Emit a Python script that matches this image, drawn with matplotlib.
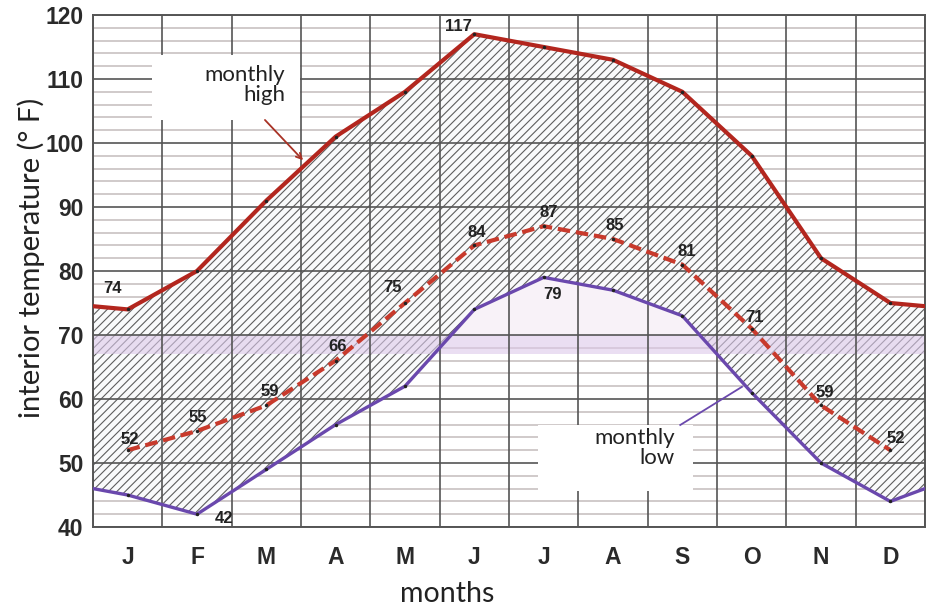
import matplotlib
matplotlib.use('Agg')
import matplotlib.pyplot as plt
import numpy as np
from matplotlib.patches import Rectangle

# monthly interior temperatures (deg F)
months = ['J', 'F', 'M', 'A', 'M', 'J', 'J', 'A', 'S', 'O', 'N', 'D']
high = [74, 80, 91, 101, 108, 117, 115, 113, 108, 98, 82, 75]
mid = [52, 55, 59, 66, 75, 84, 87, 85, 81, 71, 59, 52]
low = [45, 42, 49, 56, 62, 74, 79, 77, 73, 61, 50, 44]
# values where the curves leave the chart edges (wrap Dec -> Jan)
high_ends = [74.5, 74.5]
low_ends = [46, 46]

# which values get a number written next to them, and the pixel offset
label_specs = [
    ('high', 0, -15, 21), ('high', 5, -16, 8),
    ('mid', 0, 2, 11), ('mid', 1, 1, 14), ('mid', 2, 3, 14), ('mid', 3, 2, 14),
    ('mid', 4, -12, 15), ('mid', 5, 2, 13), ('mid', 6, 5, 14), ('mid', 7, 2, 13),
    ('mid', 8, 4, 13), ('mid', 9, 3, 11), ('mid', 10, 4, 13), ('mid', 11, 5, 12),
    ('low', 1, 27, -4), ('low', 6, 9, -17),
]

c_high = '#b3261e'
c_mid = '#c83a2c'
c_low = '#6a48ad'
c_grid = '#555555'
c_minor = '#c4bcbc'

plt.rcParams['hatch.linewidth'] = 0.8
plt.rcParams['hatch.color'] = '#5e5e5e'

fig = plt.figure(figsize=(9.32, 6.08), dpi=100)
ax = fig.add_axes([93 / 932, 1 - 527 / 608, 832 / 932, 512 / 608])

x = np.arange(12) + 0.5
x_full = np.concatenate([[0], x, [12]])
high_full = np.array([high_ends[0]] + high + [high_ends[1]])
low_full = np.array([low_ends[0]] + low + [low_ends[1]])

# minor horizontal grid
for v in range(40, 121, 2):
    if v % 10:
        ax.axhline(v, color=c_minor, lw=1.1, zorder=0.5)

# hatched range between low and high
ax.fill_between(x_full, low_full, high_full, facecolor='#f9fafb', hatch='////',
                edgecolor='#5e5e5e', linewidth=0, zorder=1)
# pale area above the comfort band under the low curve
ax.fill_between(x_full, 70, low_full, where=low_full > 70, interpolate=True,
                facecolor='#f8f2f8', linewidth=0, zorder=1)
# comfort band
ax.axhspan(67, 70, color='#ddc9ea', alpha=0.6, lw=0, zorder=1.5)

# major grid
for v in range(40, 121, 10):
    ax.axhline(v, color=c_grid, lw=1.2, zorder=2)
for i in range(13):
    ax.axvline(i, color=c_grid, lw=1.2, zorder=2)

ax.plot(x_full, high_full, color=c_high, lw=3.0, zorder=3, solid_joinstyle='round')
ax.plot(x_full, low_full, color=c_low, lw=2.4, zorder=3, solid_joinstyle='round')
ax.plot(x, mid, color=c_mid, lw=3.0, dashes=(3, 1.4), zorder=3)
for s in (high, mid, low):
    ax.plot(x, s, 'o', ms=2.5, mfc='#222222', mec='none', zorder=3.5)

series = {'high': high, 'mid': mid, 'low': low}
for name, i, dx, dy in label_specs:
    v = series[name][i]
    ax.annotate(str(v), (x[i], v), xytext=(dx, dy), textcoords='offset pixels',
                ha='center', va='center', fontsize=12, fontweight='bold',
                family='Liberation Sans', color='#222222', zorder=6)

# callout boxes
txt_font = dict(family='Lato', fontsize=16, color='#222222')
ax.add_patch(Rectangle((0.85, 103.6), 2.14, 10.15, facecolor='white',
                       edgecolor='none', zorder=4))
ax.text(2.77, 109.1, 'monthly\nhigh', ha='right', va='center', linespacing=1.0,
        zorder=5, **txt_font)
ax.annotate('', xy=(3.03, 97.3), xytext=(2.48, 103.6),
            arrowprops=dict(arrowstyle='->', color='#a83225', lw=1.3,
                            mutation_scale=10, shrinkA=0, shrinkB=0), zorder=4)

ax.add_patch(Rectangle((6.42, 45.6), 2.23, 10.34, facecolor='white',
                       edgecolor='none', zorder=4))
ax.text(8.39, 52.3, 'monthly\nlow', ha='right', va='center', linespacing=1.0,
        zorder=5, **txt_font)
ax.plot([8.47, 9.36], [55.94, 61.9], color=c_low, lw=1.3, zorder=4)

ax.set_xlim(0, 12)
ax.set_ylim(40, 120)
ax.set_xticks(x)
ax.set_xticklabels(months)
ax.set_yticks(range(40, 121, 10))
ax.tick_params(length=0, labelsize=16.5, colors='#2a2a2a', pad=7)
ax.tick_params(axis='x', pad=14)
for lab in ax.get_xticklabels() + ax.get_yticklabels():
    lab.set_fontweight('bold')
    lab.set_family('Liberation Sans')
for sp in ax.spines.values():
    sp.set_color(c_grid)
    sp.set_linewidth(1.4)

fig.text(31 / 932, 1 - 258 / 608, 'interior temperature (° F)', rotation=90,
         ha='center', va='center', family='Lato', fontsize=21, color='#222222')
fig.text(447 / 932, 1 - 594 / 608, 'months', ha='center', va='center',
         family='Lato', fontsize=20.5, color='#222222')

fig.savefig('out.png', dpi=100)
